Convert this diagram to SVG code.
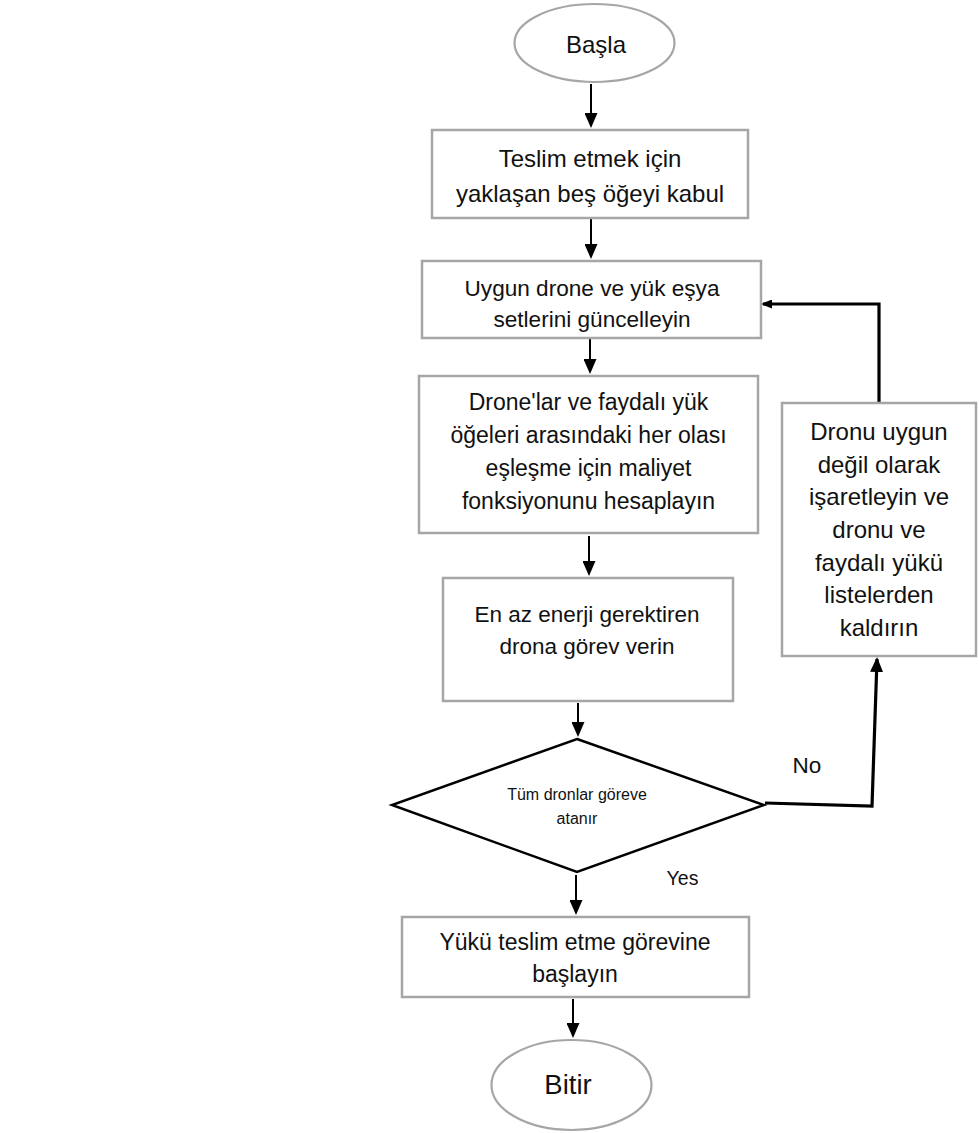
<svg xmlns="http://www.w3.org/2000/svg" width="979" height="1133" viewBox="0 0 979 1133">
<style>
.box{fill:#fff;stroke:#a6a6a6;stroke-width:2.5}
.term{fill:#fff;stroke:#a6a6a6;stroke-width:2.2}
.dec{fill:#fff;stroke:#000;stroke-width:2.5}
.t{font-family:"Liberation Sans",Arial,sans-serif;fill:#111;text-anchor:middle}
.ln{fill:none;stroke:#000;stroke-width:2}
.lnb{fill:none;stroke:#000;stroke-width:3.2}
.lbl{fill:#fff}
</style>
<defs>
<marker id="ah" markerUnits="userSpaceOnUse" markerWidth="15" markerHeight="13" refX="13" refY="6.5" orient="auto">
<path d="M0,0 L15,6.5 L0,13 z" fill="#000"/>
</marker>
<marker id="ahs" markerUnits="userSpaceOnUse" markerWidth="11" markerHeight="9" refX="9" refY="4.5" orient="auto">
<path d="M0,0 L11,4.5 L0,9 z" fill="#000"/>
</marker>
</defs>
<rect width="979" height="1133" fill="#fff"/>
<g id="labels-bg">
<rect class="lbl" x="766" y="739" width="83" height="58"/>
<rect class="lbl" x="655" y="852" width="70" height="52"/>
</g>
<g id="connectors">
<line class="ln" x1="591" y1="84" x2="591" y2="126" marker-end="url(#ah)"/>
<line class="ln" x1="591" y1="219" x2="591" y2="257" marker-end="url(#ah)"/>
<line class="ln" x1="590" y1="339" x2="590" y2="372" marker-end="url(#ah)"/>
<line class="ln" x1="589" y1="536" x2="589" y2="574" marker-end="url(#ah)"/>
<line class="ln" x1="578" y1="703" x2="578" y2="735" marker-end="url(#ah)"/>
<line class="ln" x1="576" y1="875" x2="576" y2="913" marker-end="url(#ah)"/>
<line class="ln" x1="573" y1="999" x2="573" y2="1036" marker-end="url(#ah)"/>
<path class="lnb" d="M765,803 L872,806 L877,659" marker-end="url(#ah)"/>
<path class="lnb" d="M879,402 L879,304 L763,304" marker-end="url(#ahs)"/>
</g>
<g id="start">
<ellipse class="term" cx="594.5" cy="43" rx="80" ry="39"/>
<text class="t" x="596" y="53" font-size="24">Başla</text>
</g>
<g id="receive">
<rect class="box" x="432" y="130" width="316" height="88"/>
<text class="t" x="590" y="167" font-size="24">Teslim etmek için</text>
<text class="t" x="590" y="202" font-size="24">yaklaşan beş öğeyi kabul</text>
</g>
<g id="update">
<rect class="box" x="422" y="261" width="339" height="77"/>
<text class="t" x="592" y="296" font-size="22.6">Uygun drone ve yük eşya</text>
<text class="t" x="592" y="327" font-size="22.6">setlerini güncelleyin</text>
</g>
<g id="cost">
<rect class="box" x="419" y="376" width="339" height="157"/>
<text class="t" x="588.5" y="410" font-size="23">Drone'lar ve faydalı yük</text>
<text class="t" x="588.5" y="443" font-size="23">öğeleri arasındaki her olası</text>
<text class="t" x="588.5" y="476" font-size="23">eşleşme için maliyet</text>
<text class="t" x="588.5" y="509" font-size="23">fonksiyonunu hesaplayın</text>
</g>
<g id="assign">
<rect class="box" x="443" y="578" width="290" height="123"/>
<text class="t" x="587" y="622" font-size="22.5">En az enerji gerektiren</text>
<text class="t" x="587" y="654" font-size="22.5">drona görev verin</text>
</g>
<g id="decision">
<polygon class="dec" points="577,739 764,805 577,872 392,805"/>
<text class="t" x="577" y="800" font-size="16">Tüm dronlar göreve</text>
<text class="t" x="577" y="824" font-size="16">atanır</text>
</g>
<g id="mark">
<rect class="box" x="782" y="403" width="194" height="253"/>
<text class="t" x="879" y="440" font-size="24">Dronu uygun</text>
<text class="t" x="879" y="472.7" font-size="24">değil olarak</text>
<text class="t" x="879" y="505.3" font-size="24">işaretleyin ve</text>
<text class="t" x="879" y="538" font-size="24">dronu ve</text>
<text class="t" x="879" y="570.7" font-size="24">faydalı yükü</text>
<text class="t" x="879" y="603.3" font-size="24">listelerden</text>
<text class="t" x="879" y="636" font-size="24">kaldırın</text>
</g>
<g id="deliver">
<rect class="box" x="402" y="917" width="347" height="80"/>
<text class="t" x="575" y="950" font-size="23">Yükü teslim etme görevine</text>
<text class="t" x="575" y="982" font-size="23">başlayın</text>
</g>
<g id="end">
<ellipse class="term" cx="571.5" cy="1085" rx="80" ry="45"/>
<text class="t" x="568" y="1094" font-size="27.5">Bitir</text>
</g>
<g id="edge-labels">
<text class="t" x="807" y="773" font-size="22.5">No</text>
<text class="t" x="682.5" y="885" font-size="19.5">Yes</text>
</g>
</svg>
